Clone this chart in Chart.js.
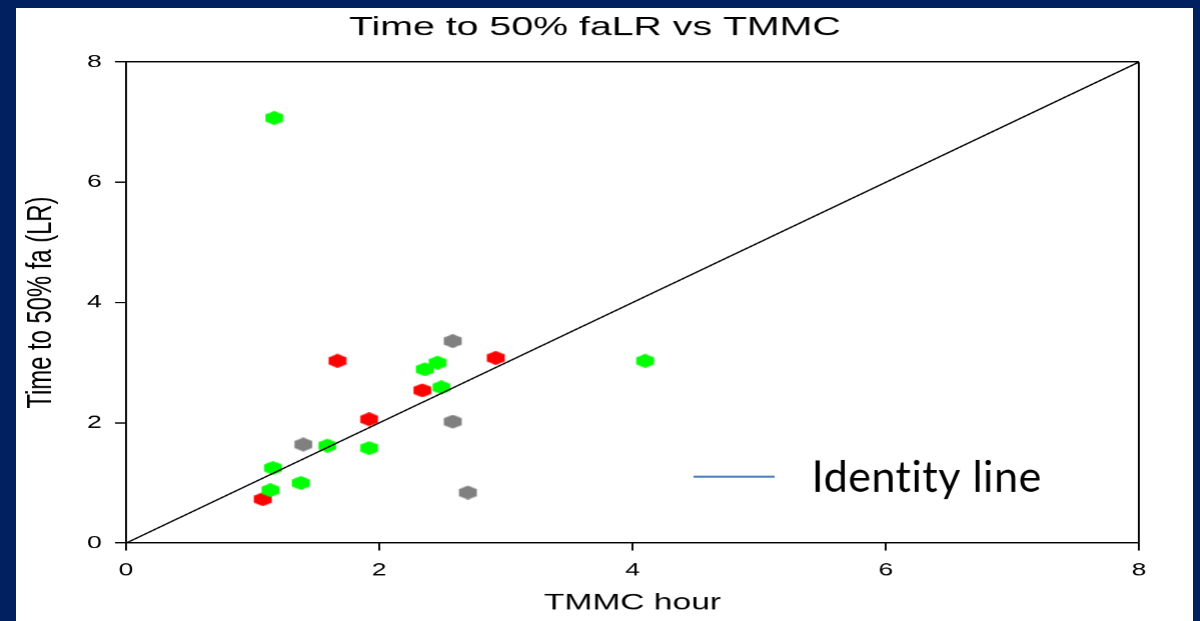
<!DOCTYPE html>
<html>
<head>
<meta charset="utf-8">
<script src="https://cdn.jsdelivr.net/npm/chart.js@4.4.1/dist/chart.umd.min.js"></script>
<style>
  html, body { margin: 0; padding: 0; }
  body { width: 1200px; height: 621px; background: #002060; position: relative; overflow: hidden; }
  #panel { position: absolute; left: 16px; top: 8px; width: 1177px; height: 613px; background: #fff; }
  /* la imagen original esta estirada a lo ancho */
  #wrap { position: absolute; left: 0; top: 0; width: 787px; height: 613px; transform: scaleX(1.47); transform-origin: 0 0; }
</style>
</head>
<body>
<div id="panel"><div id="wrap"><canvas id="grafica"></canvas></div></div>
<script>
const ESTIRAR = 1.47;
const fuente = '"Liberation Sans", Arial, sans-serif';

// Datos
const ejeTicks = [0, 2, 4, 6, 8];
const identidad = [0, 8];

const verdeX = [1.17, 1.16, 1.14, 1.38, 1.59, 1.92, 2.36, 2.46, 2.49, 4.10];
const verdeY = [7.07, 1.25, 0.88, 1.00, 1.62, 1.58, 2.89, 3.00, 2.59, 3.03];
const rojoX = [1.08, 1.67, 1.92, 2.34, 2.92];
const rojoY = [0.73, 3.03, 2.06, 2.54, 3.08];
const grisX = [1.40, 2.58, 2.58, 2.70];
const grisY = [1.64, 3.36, 2.02, 0.84];

function puntos(xs, ys) {
  return xs.map((x, i) => ({ x: x, y: ys[i] }));
}

// Marcador hexagonal
function hexagono(color) {
  const c = document.createElement('canvas');
  c.width = 14;
  c.height = 14;
  const g = c.getContext('2d');
  g.fillStyle = color;
  g.beginPath();
  for (let i = 0; i < 6; i++) {
    const a = Math.PI / 2 + i * Math.PI / 3;
    const px = 7 + 7 * Math.cos(a);
    const py = 7 + 7 * Math.sin(a);
    if (i === 0) g.moveTo(px, py); else g.lineTo(px, py);
  }
  g.closePath();
  g.fill();
  return c;
}

// Solo la linea del 8 (marco superior / derecho)
const colorMarco = ctx => (ctx.tick && ctx.tick.value === 8 ? '#000' : 'rgba(0,0,0,0)');

// Leyenda pegada encima, sin estirar
const leyendaIdentidad = {
  id: 'leyendaIdentidad',
  afterDraw(chart) {
    const ctx = chart.ctx;
    const dpr = chart.currentDevicePixelRatio;
    ctx.save();
    ctx.setTransform(dpr / ESTIRAR, 0, 0, dpr, 0, 0);
    ctx.strokeStyle = '#4a7ebb';
    ctx.lineWidth = 2;
    ctx.beginPath();
    ctx.moveTo(677, 468.7);
    ctx.lineTo(758, 468.7);
    ctx.stroke();
    ctx.fillStyle = '#000';
    ctx.font = '43px Lato, "Open Sans", sans-serif';
    ctx.letterSpacing = '0.5px'; // sin ligaduras
    ctx.textBaseline = 'alphabetic';
    ctx.fillText('Identity line', 795, 483.7);
    ctx.restore();
  }
};

function escala(titulo, extra) {
  return Object.assign({
    type: 'linear',
    min: 0,
    max: 8,
    afterBuildTicks: s => { s.ticks = ejeTicks.map(v => ({ value: v })); },
    grid: { color: colorMarco, lineWidth: 1.3, tickColor: '#000', tickLength: 7.5, tickWidth: 1.3 },
    border: { color: '#000', width: 1.3 },
    ticks: { color: '#000', font: { family: fuente, size: 18 } },
    title: { display: true, text: titulo, color: '#000' }
  }, extra);
}

const ctx = document.getElementById('grafica').getContext('2d');
new Chart(ctx, {
  type: 'scatter',
  data: {
    datasets: [
      {
        type: 'line',
        label: 'Identity line',
        data: puntos(identidad, identidad),
        borderColor: '#000',
        borderWidth: 1.3,
        pointRadius: 0,
        order: 0
      },
      { label: 'verde', data: puntos(verdeX, verdeY), pointStyle: hexagono('#00ff00'), order: 1 },
      { label: 'rojo', data: puntos(rojoX, rojoY), pointStyle: hexagono('#ff0000'), order: 1 },
      { label: 'gris', data: puntos(grisX, grisY), pointStyle: hexagono('#808080'), order: 1 }
    ]
  },
  options: {
    responsive: true,
    maintainAspectRatio: false,
    animation: false,
    devicePixelRatio: ESTIRAR,
    layout: { padding: 0 },
    plugins: {
      legend: { display: false },
      tooltip: { enabled: false },
      title: {
        display: true,
        text: 'Time to 50% faLR vs TMMC',
        color: '#000',
        font: { family: fuente, size: 26.7, weight: 'normal' },
        padding: { top: 4, bottom: 18 }
      }
    },
    scales: {
      x: escala('TMMC hour', {
        afterFit: s => { s.height = 78; }
      }),
      y: escala('Time to 50% fa (LR)', {
        afterFit: s => { s.width = 74.8; }
      }),
      y2: {
        type: 'linear',
        position: 'right',
        min: 0,
        max: 8,
        grid: { display: false, drawTicks: false },
        border: { display: false },
        ticks: { display: false },
        afterFit: s => { s.width = 23.7; }
      }
    }
  },
  plugins: [leyendaIdentidad]
});

// ajustes finos de ticks y titulos de eje
const graf = Chart.getChart('grafica');
graf.options.scales.x.ticks.padding = 9;
graf.options.scales.x.title.font = { family: fuente, size: 22.8 };
graf.options.scales.x.title.padding = { top: 0, bottom: 4 };
graf.options.scales.y.ticks.padding = 9;
graf.options.scales.y.title.font = { family: fuente, size: 23.8 };
graf.options.scales.y.title.padding = { top: 3, bottom: 0 };
graf.update();
</script>
</body>
</html>
